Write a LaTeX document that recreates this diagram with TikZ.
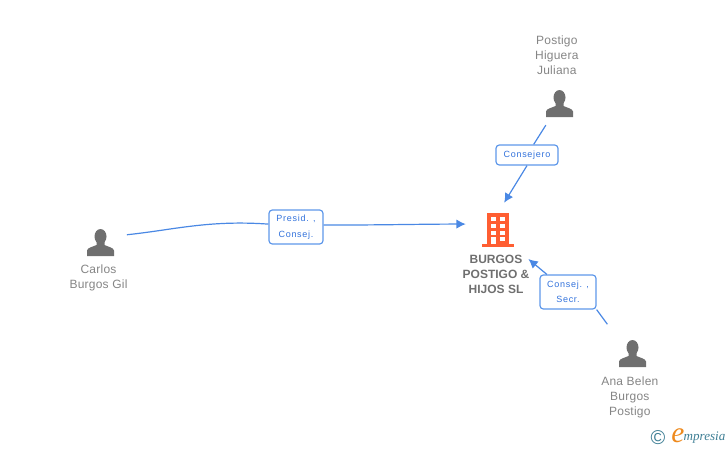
\documentclass[tikz,border=0pt]{standalone}
\usepackage{fontspec}
\setmainfont{Liberation Sans}
\newfontfamily\linkfont[LetterSpace=8]{Liberation Sans}
\newfontfamily\namefont[LetterSpace=2]{Liberation Sans}
\newfontfamily\logofont{Liberation Serif}
\usetikzlibrary{arrows.meta,positioning}

\definecolor{linkblue}{HTML}{4A88E4}
\definecolor{boxblue}{HTML}{5F98EA}
\definecolor{labelblue}{HTML}{3272DC}
\definecolor{icongray}{HTML}{6F6F6F}
\definecolor{namegray}{HTML}{858585}
\definecolor{orgorange}{HTML}{FF5E32}
\definecolor{logoteal}{HTML}{3F7F95}
\definecolor{logoorange}{HTML}{EE8A1E}

\begin{document}
\begin{tikzpicture}[
  x=0.75pt, y=-0.75pt,
  node distance=3pt,
  personicon/.style={inner sep=0pt, minimum size=20.25pt, path picture={
    \begin{scope}[shift={(path picture bounding box.center)}]
      \fill[icongray] (0,-6) ellipse (6 and 7.5);
      \fill[icongray] (-13.5,13.5) -- (-13.5,8) .. controls (-13,5) and (-8,4.5) .. (-4,2.5)
        -- (-4,-2) -- (4,-2) -- (4,2.5) .. controls (8,4.5) and (13,5) .. (13.5,8)
        -- (13.5,13.5) -- cycle;
    \end{scope}}},
  orgicon/.style={inner sep=0pt, minimum width=24pt, minimum height=25.5pt, path picture={
    \begin{scope}[shift={(path picture bounding box.center)}]
      \fill[orgorange] (-11,-17) rectangle (11,14);
      \fill[orgorange] (-16,14) rectangle (16,17);
      \foreach \wy in {-13,-6,1,7} {
        \fill[white] (-7,\wy) rectangle (-2,\wy+4);
        \fill[white] (2,\wy) rectangle (7,\wy+4);
      }
      \fill[white] (-7,11) rectangle (-2,14);
    \end{scope}}},
  personname/.style={align=center, inner sep=0pt, text=namegray,
    font=\namefont\fontsize{9}{11.25}\selectfont},
  orgname/.style={align=center, inner sep=0pt, text=icongray,
    font=\bfseries\fontsize{9}{11.25}\selectfont},
  linkbox/.style={draw=boxblue, fill=white, line width=0.9pt, rounded corners=2.5pt, inner sep=0pt,
    align=center, text=labelblue, font=\linkfont\fontsize{6.75}{11.6}\selectfont},
  linkline/.style={draw=linkblue, line width=0.9pt},
  linkarrow/.style={linkline, -{Latex[length=7pt,width=7pt]}}
]
\useasboundingbox (0,0) rectangle (728,450);

\node[personicon] (carlos) at (100.5,242.5) {};
\node[personicon] (postigo) at (559.5,103.5) {};
\node[personicon] (ana) at (632.5,353.5) {};
\node[orgicon] (burgos) at (498,230) {};

\node[personname, below=6pt of carlos, xshift=-1.5pt] (carlosname) {Carlos\\Burgos Gil};
\node[personname, above=11pt of postigo, xshift=-2pt] (postigoname) {Postigo\\Higuera\\Juliana};
\node[personname, below=7pt of ana, xshift=-2pt] (ananame) {Ana Belen\\Burgos\\Postigo};
\node[orgname, below=6pt of burgos, xshift=-1.5pt] (burgosname) {BURGOS\\POSTIGO \&\\HIJOS SL};

\node[linkbox, minimum width=40.5pt, minimum height=25.5pt] (presid) at (296,227) {Presid. ,\\Consej.};
\node[linkbox, minimum width=46.5pt, minimum height=15pt] (consejero) at (527,155) {Consejero};
\node[linkbox, minimum width=42pt, minimum height=25.5pt] (secr) at (568,292) {Consej. ,\\Secr.};

\draw[linkline, shorten <=9.5pt] (carlos.25) to[out=6,in=176] (presid.174);
\draw[linkarrow, shorten >=12pt] (presid.4) to[out=0,in=180] (burgos.160);

\draw[linkline, shorten <=7pt] (postigo) -- (consejero);
\draw[linkarrow, shorten >=8.8pt] (consejero.south) -- (burgos.north);

\draw[linkline, shorten <=14.4pt] (ana.north west) -- (secr.south east);
\draw[linkarrow, shorten >=13.8pt] (secr) -- (burgos.south east);

% logo
\node[inner sep=0pt, text=logoteal, font=\fontsize{15}{15}\selectfont] (copyr) at (658,438) {\textcopyright};
\node[inner sep=0pt, text=logoorange, font=\logofont\itshape\fontsize{22}{22}\selectfont] (logoe) at (678,436) {e};
\node[inner sep=0pt, text=logoteal, font=\logofont\itshape\fontsize{9.8}{9.8}\selectfont, right=-1pt of logoe, yshift=-1pt] (logotext) {mpresia};

\end{tikzpicture}
\end{document}
